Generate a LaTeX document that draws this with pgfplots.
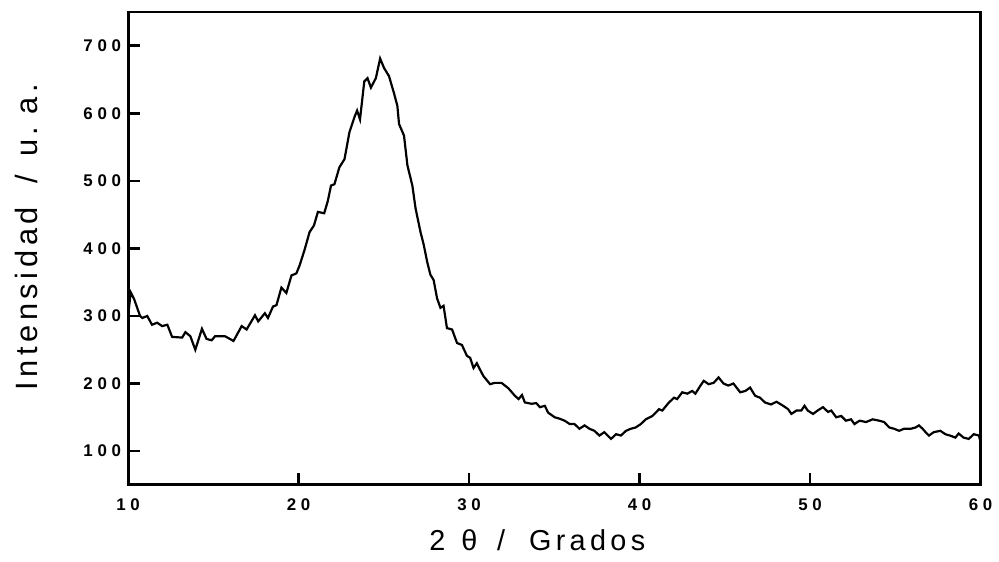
\documentclass[border=0pt]{standalone}
\usepackage{fontspec}
\setmainfont{Liberation Sans}
\newfontfamily\tickfont{Liberation Sans}[LetterSpace=28]
\newfontfamily\labfont{Liberation Sans}[LetterSpace=15]
\usepackage{pgfplots}
\pgfplotsset{compat=1.18}

\begin{document}
\begin{tikzpicture}
\begin{axis}[
    scale only axis,
    width=429pt, height=238pt,
    xmin=10, xmax=60, ymin=50, ymax=750,
    xtick={10,20,...,60},
    ytick={100,200,...,700},
    xtick pos=bottom, ytick pos=left,
    tick align=inside,
    major tick length=6pt,
    axis line style={line width=1.4pt},
    every tick/.style={line width=1.3pt, black},
    tick label style={font=\tickfont\bfseries\fontsize{8.5}{10}\selectfont},
    xticklabel style={yshift=-3.5pt},
    /pgf/number format/assume math mode=true,
    xlabel={2\hspace{8pt}θ\hspace{10pt}/\hspace{12pt}Grados},
    ylabel={Intensidad\hspace{12pt}/\hspace{9pt}u.\hspace{6pt}a.},
    xlabel style={font=\labfont\fontsize{14.5}{17}\selectfont,
        at={(axis description cs:0.48,-0.118)}, anchor=center},
    ylabel style={font=\labfont\fontsize{15.5}{18}\selectfont,
        at={(axis description cs:-0.119,0.523)}, anchor=center},
    clip=false,
]
\addplot[black, line width=1.1pt] coordinates {
(10,300) (10.15,335) (10.35,325) (10.7,300) (10.84,297) (11.12,300) (11.4,287)
(11.7,290) (12.0,285) (12.3,287) (12.58,269) (13.17,268) (13.36,276) (13.65,270)
(13.94,250) (14.33,281) (14.6,266) (14.9,264) (15.1,270) (15.68,270) (16.18,263)
(16.66,285) (16.95,280) (17.44,301) (17.63,292) (18.02,304) (18.2,297) (18.5,314)
(18.7,316) (18.99,342) (19.28,334) (19.58,360) (19.87,363) (20.06,375) (20.35,398)
(20.64,424) (20.9,434) (21.13,454) (21.5,452) (21.71,470) (21.9,493) (22.1,495)
(22.39,520) (22.69,532) (22.98,572) (23.27,594) (23.43,604) (23.6,591) (23.85,647)
(24.04,652) (24.24,638) (24.53,652) (24.78,681) (25.01,667) (25.3,655) (25.59,630)
(25.79,611) (25.89,584) (26.18,567) (26.38,523) (26.67,493) (26.86,459) (27.15,424)
(27.34,405) (27.54,380) (27.73,361) (27.92,353) (28.12,326) (28.32,312) (28.5,315)
(28.7,282) (29.0,280) (29.29,260) (29.58,257) (29.87,241) (30.06,238) (30.26,223)
(30.45,230) (30.65,220) (30.84,211) (31.23,199) (31.5,201) (31.9,201) (32.3,193)
(32.68,182) (32.9,177) (33.1,183) (33.27,172) (33.66,170) (33.94,171) (34.15,165)
(34.44,167) (34.63,157) (35.02,150) (35.3,148) (35.6,145) (35.9,140) (36.18,140)
(36.47,133) (36.77,138) (37.06,133) (37.35,130) (37.64,123) (37.93,128) (38.32,118)
(38.62,125) (38.9,123) (39.2,130) (39.48,133) (39.77,135) (40.07,140) (40.36,147)
(40.75,152) (41.14,162) (41.33,160) (41.72,172) (42.02,179) (42.2,177) (42.5,187)
(42.8,185) (43.08,189) (43.27,185) (43.57,197) (43.76,204) (44.05,199) (44.34,201)
(44.63,209) (44.92,200) (45.2,197) (45.5,200) (45.9,187) (46.2,189) (46.48,194)
(46.77,182) (47.06,179) (47.35,172) (47.7,169) (48.03,173) (48.42,167) (48.71,162)
(48.9,155) (49.2,160) (49.48,160) (49.67,167) (49.86,160) (50.17,155) (50.44,160)
(50.75,165) (51.05,158) (51.24,160) (51.53,150) (51.82,152) (52.1,145) (52.4,147)
(52.6,140) (52.9,145) (53.28,143) (53.67,147) (54.05,145) (54.34,143) (54.64,135)
(54.93,133) (55.22,130) (55.5,133) (55.9,133) (56.19,135) (56.38,138) (56.6,133)
(56.77,128) (56.97,123) (57.25,128) (57.64,130) (57.93,125) (58.2,123) (58.52,120)
(58.71,126) (59.0,120) (59.3,118) (59.6,125) (59.9,123) (60,113)
};
\path (axis description cs:-0.1503,-0.1618) rectangle (axis description cs:1.014,1.0252);
\end{axis}
\end{tikzpicture}
\end{document}
